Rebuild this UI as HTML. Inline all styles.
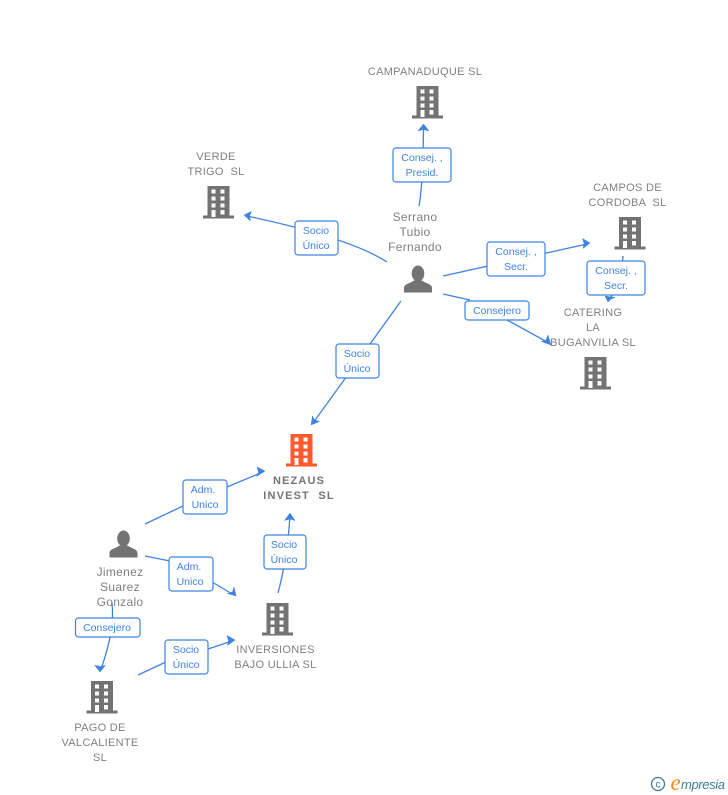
<!DOCTYPE html>
<html><head><meta charset="utf-8">
<style>
html,body{margin:0;padding:0;background:#fff;width:728px;height:795px;overflow:hidden}
svg{display:block}
text{font-family:"Liberation Sans",sans-serif}
.n{font-size:11px;fill:#808080;text-anchor:middle;letter-spacing:.3px}
.p{font-size:12px;fill:#808080;text-anchor:middle;letter-spacing:.3px}
.b{font-size:11px;fill:#747474;font-weight:bold;text-anchor:middle;letter-spacing:1.15px}
.l{font-size:10.5px;fill:#3f83e0;text-anchor:middle}
.e{fill:none;stroke:#3f83e0;stroke-width:1.3}
.r{fill:#fff;stroke:#3f83e0;stroke-width:1.2}
.a{fill:#3f83e0;stroke:#3f83e0;stroke-width:.5}
</style></head>
<body>
<svg width="728" height="795" viewBox="0 0 728 795" xmlns="http://www.w3.org/2000/svg">
<defs>
<g id="bw" fill="#fff">
<rect x="-7" y="3.500" width="4" height="4"/><rect x="2" y="3.500" width="4" height="4"/>
<rect x="-7" y="10.500" width="4" height="4"/><rect x="2" y="10.500" width="4" height="4"/>
<rect x="-7" y="17.500" width="4" height="4"/><rect x="2" y="17.500" width="4" height="4"/>
<rect x="-7" y="24" width="4" height="7"/><rect x="2" y="24" width="4" height="4.500"/>
</g>
<g id="bg"><rect x="-11" y="0" width="22" height="31" fill="#737373"/><rect x="-15.500" y="29.500" width="31" height="3" fill="#737373"/><use href="#bw"/></g>
<g id="bo"><rect x="-11" y="0" width="22" height="31" fill="#ff5a2b"/><rect x="-15.500" y="29.500" width="31" height="3" fill="#ff5a2b"/><use href="#bw"/></g>
<g id="pr" fill="#737373"><ellipse cx="0" cy="7.500" rx="6.300" ry="8"/><path d="M-14 26.500V22C-14 18-8 17.500-4 14.500L4 14.500C8 17.500 14 18 14 22V26.500Z"/></g>
</defs>

<!-- edges -->
<path class="e" d="M419 206Q423 185 423.500 127"/><path class="a" d="M423.500 124l5.500 7-5.500-1.500-5.500 1.500z"/>
<path class="e" d="M387 262Q350 238 247 216"/><path class="a" d="M244 215l7.500-3.500-2 4.500 1 5z"/>
<path class="e" d="M443 276L587 244"/><path class="a" d="M590 243l-7.500-4.500 1.500 5-1 5z"/>
<path class="e" d="M623 256Q622 278 610 299"/><path class="a" d="M605 296l10 1.500-4 1.500-3 3z"/>
<path class="e" d="M443 294L470 300M507 320L549 343"/><path class="a" d="M551 345l-9.500-3.500 4.500-1.500 2-5z"/>
<path class="e" d="M401 301L313 423"/><path class="a" d="M311 425l1.500-9 2 4 5 1.500z"/>
<path class="e" d="M145 524L183 506M227 487L263 472"/><path class="a" d="M265 471l-8-4 1.500 5-2 4.500z"/>
<path class="e" d="M145 556L170 561M212 582L234 595"/><path class="a" d="M236 596l-2-9-1.500 5-5 1.500z"/>
<path class="e" d="M278 593Q287 560 290 516"/><path class="a" d="M290 513l5 7.500-5-1.500-5.500 1.500z"/>
<path class="e" d="M112 603Q115 630 101 669"/><path class="a" d="M100 672l-5.500-7 5.500 1.500 5.500-1z"/>
<path class="e" d="M138 675L166 662M208 649L232 641"/><path class="a" d="M235 640l-8-4.500 1.500 5-1 5z"/>

<!-- edge labels -->
<rect class="r" x="393" y="148" width="58" height="34" rx="3"/><text class="l" x="422" y="161">Consej. ,</text><text class="l" x="422" y="176">Presid.</text>
<rect class="r" x="295" y="221" width="43" height="34" rx="3"/><text class="l" x="316" y="234">Socio</text><text class="l" x="316" y="249">Único</text>
<rect class="r" x="487" y="242" width="58" height="34" rx="3"/><text class="l" x="516" y="255">Consej. ,</text><text class="l" x="516" y="270">Secr.</text>
<rect class="r" x="587" y="261" width="58" height="34" rx="3"/><text class="l" x="616" y="274">Consej. ,</text><text class="l" x="616" y="289">Secr.</text>
<rect class="r" x="465" y="301" width="64" height="19" rx="3"/><text class="l" x="497" y="314">Consejero</text>
<rect class="r" x="336" y="344" width="43" height="34" rx="3"/><text class="l" x="357" y="357">Socio</text><text class="l" x="357" y="372">Único</text>
<rect class="r" x="183" y="480" width="44" height="34" rx="3"/><text class="l" x="203" y="493">Adm.</text><text class="l" x="205" y="508">Unico</text>
<rect class="r" x="169" y="557" width="44" height="34" rx="3"/><text class="l" x="189" y="570">Adm.</text><text class="l" x="190" y="585">Unico</text>
<rect class="r" x="264" y="535" width="42" height="34" rx="3"/><text class="l" x="284" y="548">Socio</text><text class="l" x="284" y="563">Único</text>
<rect class="r" x="75.500" y="618" width="64.500" height="19" rx="3"/><text class="l" x="107" y="631">Consejero</text>
<rect class="r" x="165" y="640" width="43" height="34" rx="3"/><text class="l" x="186" y="653">Socio</text><text class="l" x="186" y="668">Único</text>

<!-- nodes -->
<use href="#bg" x="427.500" y="86"/>
<use href="#bg" x="218.500" y="186"/>
<use href="#bg" x="630" y="217"/>
<use href="#bg" x="595.500" y="357"/>
<use href="#bo" x="301.500" y="434"/>
<use href="#bg" x="277.500" y="603"/>
<use href="#bg" x="102" y="681"/>
<use href="#pr" x="418" y="266"/>
<use href="#pr" x="123.500" y="531"/>

<!-- node labels -->
<text class="n" x="425" y="75">CAMPANADUQUE SL</text>
<text class="n" x="216" y="160">VERDE</text><text class="n" x="216" y="175" xml:space="preserve">TRIGO  SL</text>
<text class="n" x="627.500" y="191">CAMPOS DE</text><text class="n" x="627.500" y="206" xml:space="preserve">CORDOBA  SL</text>
<text class="n" x="593" y="316">CATERING</text><text class="n" x="593" y="331">LA</text><text class="n" x="593" y="346">BUGANVILIA SL</text>
<text class="b" x="299" y="484">NEZAUS</text><text class="b" x="299" y="499" xml:space="preserve">INVEST  SL</text>
<text class="n" x="275.500" y="653">INVERSIONES</text><text class="n" x="275.500" y="668">BAJO ULLIA SL</text>
<text class="n" x="100" y="731">PAGO DE</text><text class="n" x="100" y="746">VALCALIENTE</text><text class="n" x="100" y="761">SL</text>
<text class="p" x="415" y="221">Serrano</text><text class="p" x="415" y="236">Tubio</text><text class="p" x="415" y="251">Fernando</text>
<text class="p" x="120" y="576">Jimenez</text><text class="p" x="120" y="591">Suarez</text><text class="p" x="120" y="606">Gonzalo</text>

<!-- logo -->
<circle cx="658" cy="784" r="6.500" fill="none" stroke="#3e7c96" stroke-width="1.300"/>
<text x="658" y="787.500" font-size="10" fill="#3e7c96" text-anchor="middle">c</text>
<text x="670.500" y="790" font-size="23" fill="#f08a1d" style="font-family:'Liberation Serif',serif;font-style:italic">e</text>
<text x="681" y="789" font-size="13" fill="#3e7c96" textLength="44" style="font-family:'Liberation Sans',sans-serif;font-style:italic">mpresia</text>
</svg>
</body></html>
